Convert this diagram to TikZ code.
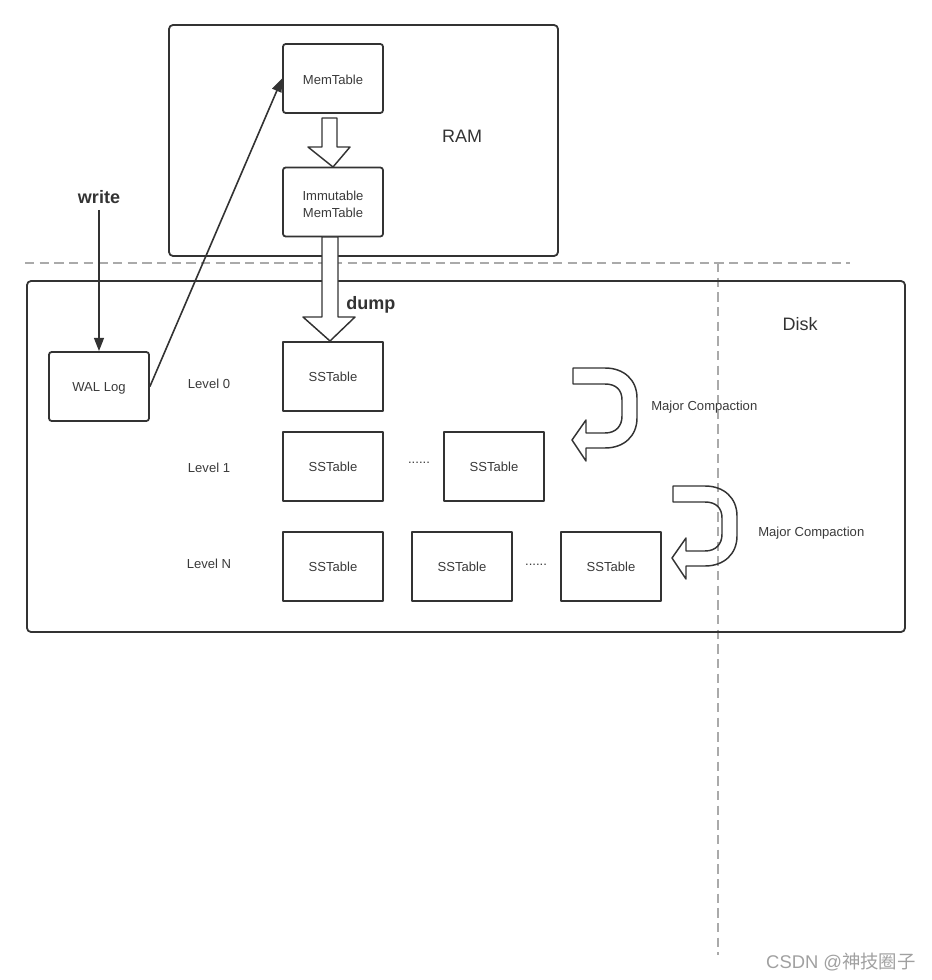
\documentclass[tikz,border=0pt]{standalone}
\usepackage{fontspec}
\setmainfont{Liberation Sans}
\newfontfamily\cjk{Noto Sans CJK SC}
\usetikzlibrary{arrows.meta}
\definecolor{lc}{HTML}{333333}
\definecolor{tc}{HTML}{3A3A3A}
\definecolor{dc}{HTML}{AAAAAA}
\definecolor{wm}{HTML}{A0A0A0}
\begin{document}
\begin{tikzpicture}[x=0.75pt,y=-0.75pt,line join=round,
  rbox/.style={draw=lc,line width=1.35pt,rounded corners=2pt,minimum width=75pt,minimum height=51.75pt,inner sep=0pt,align=center,text=tc,font=\fontsize{9.8}{12}\selectfont},
  sbox/.style={draw=lc,line width=1.35pt,minimum width=75pt,minimum height=51.75pt,inner sep=0pt,align=center,text=tc,font=\fontsize{9.8}{12}\selectfont},
  bigbox/.style={draw=lc,line width=1.35pt,rounded corners=3pt},
  small/.style={text=tc,font=\fontsize{9.8}{12}\selectfont,inner sep=0pt,align=center},
  big/.style={text=lc,font=\fontsize{13.5}{16}\selectfont,inner sep=0pt},
  hollow/.style={draw=lc,line width=1.1pt,fill=white},
  hollowline/.style={draw=lc,line width=1.1pt},
  sep/.style={draw=dc,line width=0.8pt,dash pattern=on 7pt off 4pt},
  conn/.style={draw=lc,line width=1.2pt,-{Triangle[length=10pt,width=7.5pt]}}]
\useasboundingbox (0,0) rectangle (931,980);
% separators
\draw[sep] (25,263) -- (850,263);
\draw[sep] (718,263) -- (718,955);
% containers
\draw[bigbox] (169,25) rectangle (558,256);
\draw[bigbox] (27,281) rectangle (905,632);
\node[big] (ram) at (462,136) {RAM};
\node[big] (disk) at (800,324) {Disk};
% memory nodes
\node[rbox] (mem) at (333,78.5) {};
\node[small] (memt) at (333,80) {MemTable};
\node[rbox] (imm) at (333,202) {};
\node[small,font=\fontsize{9.8}{12}\selectfont] (immt) at (333,204) {Immutable\\[0.6pt]MemTable};
% WAL
\node[rbox] (wal) at (99,386.5) {};
\node[small] (walt) at (99,388) {WAL Log};
\node[big,font=\fontsize{13.5}{16}\selectfont\bfseries] (write) at (99,197) {write};
% SSTables
\node[sbox] (s0) at (333,376.5) {SSTable};
\node[sbox] (s1a) at (333,466.5) {SSTable};
\node[sbox] (s1b) at (494,466.5) {SSTable};
\node[sbox] (sna) at (333,566.5) {SSTable};
\node[sbox] (snb) at (462,566.5) {SSTable};
\node[sbox] (snc) at (611,566.5) {SSTable};
\node[small] (d1) at (419,463) {......};
\node[small] (d2) at (536,565) {......};
% level labels
\node[small] (l0) at (209,384) {Level 0};
\node[small] (l1) at (209,468) {Level 1};
\node[small] (ln) at (209,564) {Level N};
% hollow arrows
\path[hollow] (322,118) -- (337,118) -- (337,147) -- (350,147) -- (333,167) -- (308,147) -- (322,147) -- cycle;
\path[hollow] (322,237) -- (338,237) -- (338,317) -- (355,317) -- (330,341) -- (303,317) -- (322,317) -- cycle;
\node[big,font=\fontsize{13.5}{16}\selectfont\bfseries,anchor=west] (dump) at (346,305) {dump};
% connectors
\draw[conn] (write.south) ++(0,6) -- (wal.north);
\draw[conn] (wal.east) -- (mem.west);
% compaction arrows
\foreach \dx/\dy in {0/0,100/118}{
\path[hollowline,shift={(\dx*0.75pt,-\dy*0.75pt)}] (573,368) -- (605,368) .. controls (624,368) and (637,380) .. (637,398) -- (637,418)
  .. controls (637,436) and (624,448) .. (605,448) -- (586,448) -- (586,461) -- (572,440) -- (586,420) -- (586,433)
  -- (605,433) .. controls (616,433) and (622,426) .. (622,416) -- (622,400) .. controls (622,390) and (616,384) .. (605,384) -- (573,384) -- cycle;
}
\node[small,anchor=west] (mc1) at (651,407) {Major Compaction};
\node[small,anchor=west] (mc2) at (758,533) {Major Compaction};
% watermark
\node[text=wm,font=\fontsize{13.8}{16}\selectfont,anchor=east,inner sep=0pt] (wmk) at (916,962) {CSDN @\cjk 神技圈子};
\end{tikzpicture}
\end{document}
